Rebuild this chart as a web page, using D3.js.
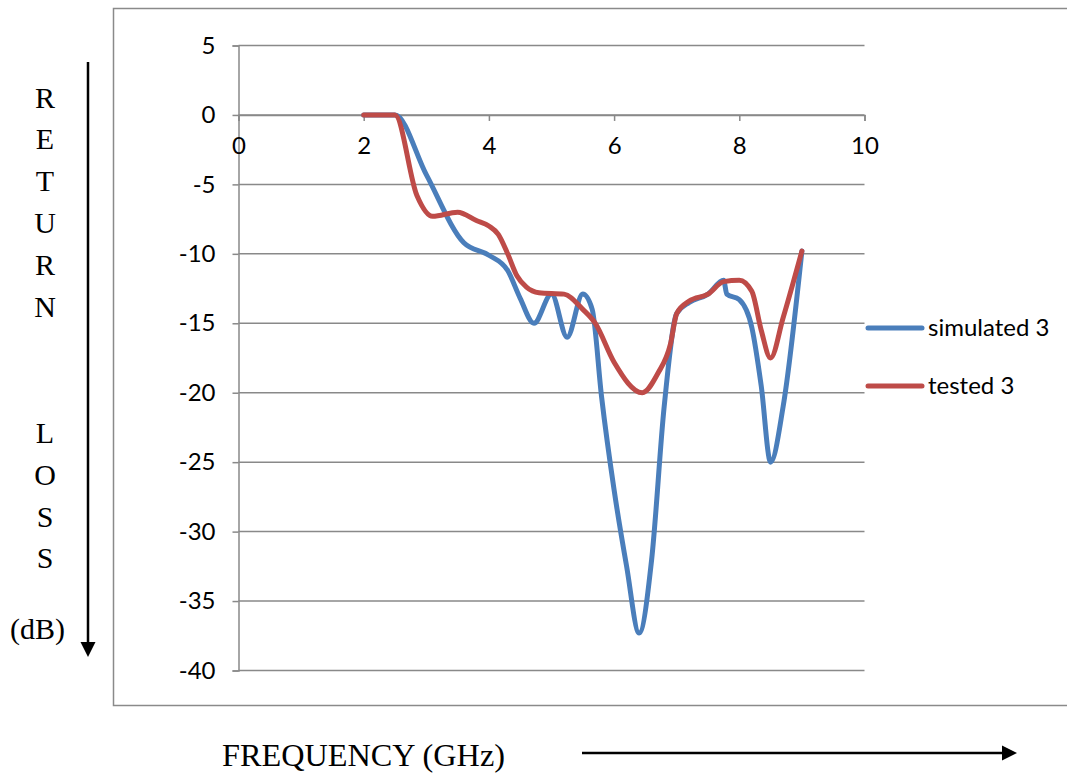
<!DOCTYPE html>
<html>
<head>
<meta charset="utf-8">
<script src="https://cdn.jsdelivr.net/npm/d3@7"></script>
<style>
  html, body { margin: 0; padding: 0; background: #fff; }
  svg { display: block; }
</style>
</head>
<body>
<svg id="chart" width="1067" height="774"></svg>
<script>
// Return loss vs. frequency: simulated and measured responses of antenna 3
const freqSim = [2.0, 2.5, 3.0, 3.6, 4.0, 4.3, 4.5, 4.72, 5.0, 5.25, 5.5, 5.65, 5.8, 6.0, 6.2, 6.4, 6.6, 6.8, 7.0, 7.2, 7.5, 7.75, 7.8, 8.0, 8.2, 8.35, 8.5, 8.7, 9.0];
const simulated3 = [0, 0, -4.3, -9.2, -10.1, -11.2, -13.2, -15.0, -12.9, -16.0, -12.9, -14.0, -20.3, -27.0, -32.5, -37.3, -32.0, -21.0, -14.3, -13.5, -12.9, -11.9, -12.9, -13.3, -15.3, -19.5, -25.0, -21.0, -9.8];

const freqTest = [2.0, 2.5, 2.85, 3.1, 3.5, 3.8, 4.0, 4.15, 4.3, 4.45, 4.6, 4.8, 5.2, 5.5, 5.7, 6.0, 6.45, 6.7, 6.9, 7.0, 7.2, 7.5, 7.75, 8.0, 8.2, 8.35, 8.5, 8.7, 9.0];
const tested3 = [0, 0, -5.8, -7.3, -7.0, -7.6, -8.0, -8.6, -10.0, -11.6, -12.4, -12.8, -12.9, -14.0, -15.0, -17.8, -20.0, -18.6, -16.5, -14.3, -13.4, -12.9, -12.0, -11.9, -12.7, -15.5, -17.5, -14.6, -9.8];

const seriesNames = ["simulated 3", "tested 3"];
const seriesColors = ["#4a7ebb", "#be4b48"];
const xTicks = [0, 2, 4, 6, 8, 10];
const yTicks = [5, 0, -5, -10, -15, -20, -25, -30, -35, -40];
const yTitleLetters = ["R", "E", "T", "U", "R", "N", "", "", "L", "O", "S", "S"];

const svg = d3.select("#chart");
const gridColor = "#898989";

// outer chart frame
svg.append("rect")
  .attr("x", 113.5).attr("y", 8.5)
  .attr("width", 1000).attr("height", 697)
  .attr("fill", "none").attr("stroke", "#8a8a8a").attr("stroke-width", 1.5);

const x = d3.scaleLinear().domain([0, 10]).range([238.5, 864.5]);
const y = d3.scaleLinear().domain([5, -40]).range([45.5, 670.5]);

// horizontal gridlines
svg.append("g").selectAll("line").data(yTicks).join("line")
  .attr("x1", x(0)).attr("x2", x(10))
  .attr("y1", d => y(d)).attr("y2", d => y(d))
  .attr("stroke", gridColor).attr("stroke-width", 1.5);

// value axis on the left
const yAxis = svg.append("g")
  .attr("transform", `translate(${x(0)},0)`)
  .call(d3.axisLeft(y).tickValues(yTicks).tickSize(6).tickPadding(17).tickFormat(d3.format("d")));
yAxis.select(".domain").attr("stroke", gridColor).attr("stroke-width", 1.5);
yAxis.selectAll(".tick line").attr("stroke", gridColor).attr("stroke-width", 1.5);
yAxis.selectAll(".tick text")
  .attr("font-family", "Lato, 'Open Sans', sans-serif")
  .attr("font-size", 24).attr("fill", "#000")
  .text(d => d < 0 ? "-" + Math.abs(d) : d);

// frequency axis crossing at 0 dB
const xAxis = svg.append("g")
  .attr("transform", `translate(0,${y(0)})`)
  .call(d3.axisBottom(x).tickValues(xTicks).tickSize(6).tickPadding(16).tickFormat(d3.format("d")));
xAxis.select(".domain").attr("stroke", gridColor).attr("stroke-width", 1.5);
xAxis.selectAll(".tick line").attr("stroke", gridColor).attr("stroke-width", 1.5);
xAxis.selectAll(".tick text")
  .attr("font-family", "Lato, 'Open Sans', sans-serif")
  .attr("font-size", 24).attr("fill", "#000");

// smoothed response curves
const line = d3.line()
  .x(d => x(d[0])).y(d => y(d[1]))
  .curve(d3.curveMonotoneX);

const seriesData = [
  d3.zip(freqSim, simulated3),
  d3.zip(freqTest, tested3)
];

svg.append("g").selectAll("path").data(seriesData).join("path")
  .attr("d", line)
  .attr("fill", "none")
  .attr("stroke", (d, i) => seriesColors[i])
  .attr("stroke-width", 5)
  .attr("stroke-linecap", "round")
  .attr("stroke-linejoin", "round");

// legend
const legend = svg.append("g").selectAll("g").data(seriesNames).join("g")
  .attr("transform", (d, i) => `translate(868,${328 + i * 58})`);
legend.append("line")
  .attr("x1", 0).attr("x2", 54).attr("y1", 0).attr("y2", 0)
  .attr("stroke", (d, i) => seriesColors[i])
  .attr("stroke-width", 5).attr("stroke-linecap", "round");
legend.append("text")
  .attr("x", 60).attr("y", 0).attr("dy", "0.35em")
  .attr("font-family", "Lato, 'Open Sans', sans-serif")
  .attr("font-size", 24).attr("fill", "#000")
  .text(d => d);

// axis titles with arrows
const serif = "'Liberation Serif', 'Times New Roman', serif";
svg.append("g").selectAll("text").data(yTitleLetters).join("text")
  .attr("x", 45).attr("y", (d, i) => 97 + i * 41.9)
  .attr("dy", "0.35em")
  .attr("text-anchor", "middle")
  .attr("font-family", serif).attr("font-size", 30).attr("fill", "#000")
  .text(d => d);
svg.append("text")
  .attr("x", 37.5).attr("y", 628).attr("dy", "0.35em")
  .attr("text-anchor", "middle")
  .attr("font-family", serif).attr("font-size", 30).attr("fill", "#000")
  .text("(dB)");

svg.append("line")
  .attr("x1", 88).attr("x2", 88).attr("y1", 62).attr("y2", 644)
  .attr("stroke", "#000").attr("stroke-width", 2.5);
svg.append("path")
  .attr("d", "M80.5,642 L95.5,642 L88,657 Z")
  .attr("fill", "#000");

svg.append("text")
  .attr("x", 222).attr("y", 755).attr("dy", "0.35em")
  .attr("font-family", serif).attr("font-size", 31).attr("fill", "#000")
  .attr("textLength", 283).attr("lengthAdjust", "spacingAndGlyphs")
  .text("FREQUENCY (GHz)");

svg.append("line")
  .attr("x1", 582).attr("x2", 1004).attr("y1", 753).attr("y2", 753)
  .attr("stroke", "#000").attr("stroke-width", 2.5);
svg.append("path")
  .attr("d", "M1002,745.5 L1002,760.5 L1017,753 Z")
  .attr("fill", "#000");
</script>
</body>
</html>
